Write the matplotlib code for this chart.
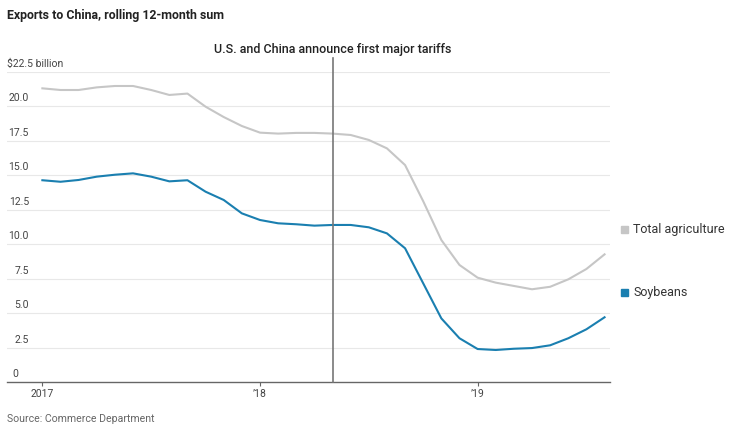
import numpy as np
import matplotlib.pyplot as plt

plt.rcParams['font.family'] = ['Roboto', 'DejaVu Sans']

# monthly, Jan 2017 .. Aug 2019, $ billion
months = np.arange(32)
total_ag = [21.28, 21.16, 21.16, 21.35, 21.45, 21.45, 21.16, 20.8, 20.9, 19.95,
            19.2, 18.55, 18.07, 18.0, 18.05, 18.05, 18.0, 17.9, 17.54, 16.93,
            15.72, 13.1, 10.29, 8.48, 7.56, 7.2, 6.96, 6.72, 6.9, 7.44, 8.19, 9.25]
soybeans = [14.62, 14.51, 14.64, 14.88, 15.02, 15.12, 14.88, 14.54, 14.62, 13.79,
            13.19, 12.22, 11.74, 11.5, 11.43, 11.33, 11.38, 11.38, 11.21, 10.77,
            9.69, 7.15, 4.61, 3.17, 2.39, 2.32, 2.41, 2.46, 2.66, 3.17, 3.82, 4.69]
yticks = [0, 2.5, 5.0, 7.5, 10.0, 12.5, 15.0, 17.5, 20.0, 22.5]
ytick_labels = ['0', '2.5', '5.0', '7.5', '10.0', '12.5', '15.0', '17.5', '20.0', '$22.5 billion']
xticks = [0, 12, 24]
xtick_labels = ['2017', '\u201918', '\u201919']
tariff_month = 16

gray = '#c6c6c6'
blue = '#1a7fb0'

fig = plt.figure(figsize=(7.4, 4.42), dpi=100)
ax = fig.add_axes([7/740, 1-382/442, (610-7)/740, (382-71.5)/442])

for v in yticks[1:]:
  ax.axhline(v, color='#e8e8e8', lw=0.8, zorder=0)

ax.plot(months, total_ag, color=gray, lw=1.5)
ax.plot(months, soybeans, color=blue, lw=1.5)

ax.plot([tariff_month, tariff_month], [0, 23.45], color='#777777', lw=1.2, clip_on=False, zorder=3)
ax.text(tariff_month, 24.1, 'U.S. and China announce first major tariffs', ha='center', va='center',
        fontsize=9.0, fontweight='medium', color='#222222')

ax.set_xlim(-1.95, 31.3)
ax.set_ylim(0, 22.5)

for s in ['top', 'right', 'left']:
  ax.spines[s].set_visible(False)
ax.spines['bottom'].set_color('#666666')
ax.spines['bottom'].set_linewidth(1.0)

ax.set_yticks([])
ax.set_xticks(xticks)
ax.set_xticklabels(xtick_labels, fontsize=7.5, color='#444444')
ax.tick_params(axis='x', length=3, color='#666666', pad=2)

trans = ax.get_yaxis_transform()
for v, lab in zip(yticks, ytick_labels):
  if lab.startswith('$'):
    ax.text(0.0, v + 0.2, lab, transform=trans, ha='left', va='bottom', fontsize=7.5, color='#444444')
  elif v == 0:
    ax.text(5/603, v + 0.2, lab, transform=trans, ha='left', va='bottom', fontsize=7.5, color='#444444')
  else:
    ax.text(22/603, v + 0.2, lab, transform=trans, ha='right', va='bottom', fontsize=7.5, color='#444444')

fig.text(7/740, 1-15/442, 'Exports to China, rolling 12-month sum', ha='left', va='center',
         fontsize=8.9, fontweight='bold', color='#222222')
fig.text(7/740, 1-419/442, 'Source: Commerce Department', ha='left', va='center', fontsize=7.6, color='#666666')

# legend
for y, lab, c in [(229, 'Total agriculture', gray), (292.5, 'Soybeans', blue)]:
  fig.patches.append(plt.Rectangle((621/740, 1-(y+3.5)/442), 7/740, 7/442, transform=fig.transFigure, color=c))
  fig.text(633/740, 1-y/442, lab, ha='left', va='center', fontsize=9, color='#333333')

fig.savefig('out.png', dpi=100)
